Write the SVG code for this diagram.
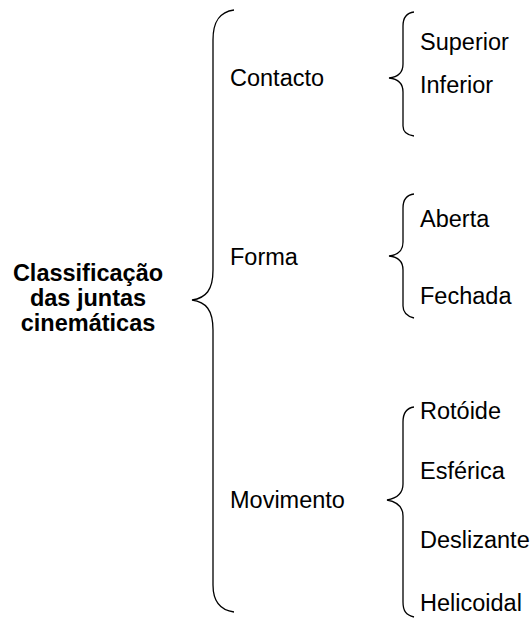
<svg xmlns="http://www.w3.org/2000/svg" width="531" height="621" viewBox="0 0 531 621">
<style>
.b{fill:none;stroke:#000;stroke-width:1.3}
.t{font-family:"Liberation Sans",Arial,sans-serif;font-size:23.5px;fill:#000}
.h{font-family:"Liberation Sans",Arial,sans-serif;font-size:23.5px;font-weight:bold;fill:#000;text-anchor:middle}
</style>
<rect width="531" height="621" fill="#fff"/>
<g id="braces">
<path class="b" d="M234,10 C219,12 213,22 213,40 L213,270 C213,290 206,298 192,300 C206,302 213,310 213,330 L213,585 C213,600 219,610 234,612"/>
<path class="b" d="M414,12 C406,13 403,18 403,26 L403,64 C403,72 399,77 389,78 C399,79 403,84 403,92 L403,126 C403,132 406,135 414,136"/>
<path class="b" d="M414,194 C406,195 403,200 403,208 L403,242 C403,250 399,255 389,256 C399,257 403,262 403,270 L403,306 C403,312 406,316 414,318"/>
<path class="b" d="M414,407 C406,408 403,413 403,422 L403,484 C403,493 398,498 387,500 C398,502 403,507 403,516 L403,602 C403,611 406,615 414,617"/>
</g>
<g id="root"><text class="h" x="88" y="281">Classificação</text><text class="h" x="88" y="306">das juntas</text><text class="h" x="88" y="331">cinemáticas</text></g>
<g id="contacto"><text class="t" x="230" y="86">Contacto</text></g>
<g id="forma"><text class="t" x="230" y="265">Forma</text></g>
<g id="movimento"><text class="t" x="230" y="508">Movimento</text></g>
<g id="superior"><text class="t" x="420" y="50">Superior</text></g>
<g id="inferior"><text class="t" x="420" y="93">Inferior</text></g>
<g id="aberta"><text class="t" x="420" y="227">Aberta</text></g>
<g id="fechada"><text class="t" x="420" y="304">Fechada</text></g>
<g id="rotoide"><text class="t" x="420" y="419">Rotóide</text></g>
<g id="esferica"><text class="t" x="420" y="479">Esférica</text></g>
<g id="deslizante"><text class="t" x="420" y="548">Deslizante</text></g>
<g id="helicoidal"><text class="t" x="420" y="611">Helicoidal</text></g>
</svg>
